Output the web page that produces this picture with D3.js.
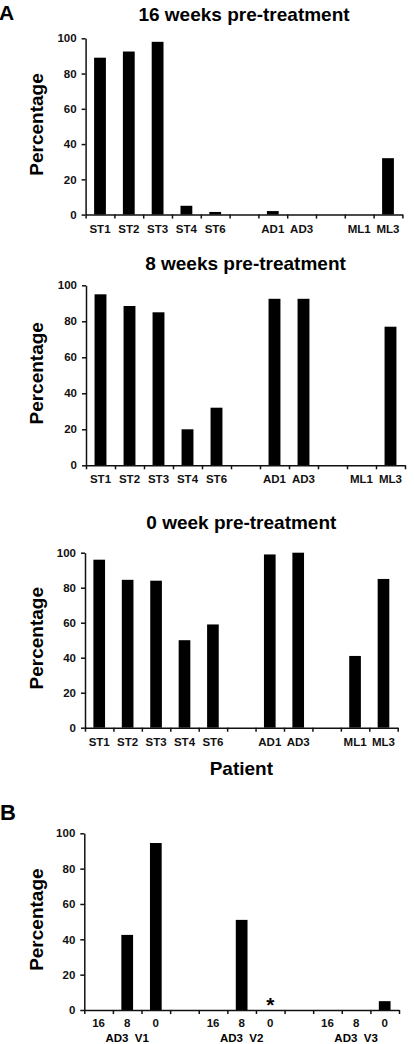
<!DOCTYPE html>
<html>
<head>
<meta charset="utf-8">
<script src="https://cdn.jsdelivr.net/npm/d3@7"></script>
<style>
  body { margin: 0; background: #fff; }
  svg { display: block; font-family: "Liberation Sans", Arial, sans-serif; }
  .tick text { font-weight: bold; fill: #111; }
  .domain, .tick line { stroke: #111; stroke-width: 1.5; }
</style>
</head>
<body>
<svg id="chart"></svg>
<script>
// panel A: patients (blank slots separate the groups)
let patients = ["ST1", "ST2", "ST3", "ST4", "ST6", "gapA", "AD1", "AD3", "gapB", "ML1", "ML3"]
let week16 = [89, 92.5, 98, 5, 1.5, null, 2, 0, null, 0, 32]
let week8 = [95, 88.5, 85, 20, 32, null, 92.5, 92.5, null, 0, 77]
let week0 = [96, 84.5, 84, 50, 59, null, 99, 100, null, 41, 85]

// panel B: AD3 visits, weeks pre-treatment
let visitSlots = ["V1-16", "V1-8", "V1-0", "gapA", "V2-16", "V2-8", "V2-0", "gapB", "V3-16", "V3-8", "V3-0"]
let visitTicks = ["16", "8", "0", "", "16", "8", "0", "", "16", "8", "0"]
let visitValues = [0, 42.5, 94.5, null, 0, 51, null, null, 0, 0, 5]
let visitGroups = ["AD3  V1", "AD3  V2", "AD3  V3"]
let groupSlots = ["V1-8", "V2-8", "V3-8"]
let starredSlots = ["V2-0"]

let yTicks = [0, 20, 40, 60, 80, 100]

let width = 414
let height = 1044

let svg = d3.select('#chart')
  .attr('width', width)
  .attr('height', height)

let drawPanel = (opts) => {
  let xScale = d3.scaleBand()
    .domain(opts.slots)
    .range([opts.left, opts.right])
    .paddingInner(0.59)
    .paddingOuter(0.295)

  // boundaries between slots, for the small x ticks
  let edgeScale = d3.scaleLinear()
    .domain([0, opts.slots.length])
    .range([opts.left, opts.right])

  let yScale = d3.scaleLinear()
    .domain([0, 100])
    .range([opts.bottom, opts.top])

  if (opts.title) {
    svg.append('text')
      .attr('x', (opts.left + opts.right) / 2)
      .attr('y', opts.titleY)
      .attr('text-anchor', 'middle')
      .style('font-weight', 'bold')
      .style('font-size', '19px')
      .text(opts.title)
  }

  svg.append('text')
    .attr('transform', 'translate(43,' + ((opts.top + opts.bottom) / 2 - 2) + ') rotate(-90)')
    .attr('text-anchor', 'middle')
    .style('font-weight', 'bold')
    .style('font-size', '19px')
    .text('Percentage')

  svg.selectAll(null)
    .data(opts.slots.map((s, i) => ({ slot: s, value: opts.values[i] })).filter(d => d.value != null))
    .enter()
    .append('rect')
    .attr('x', d => xScale(d.slot))
    .attr('width', xScale.bandwidth())
    .attr('y', d => yScale(d.value))
    .attr('height', d => yScale(0) - yScale(d.value))
    .attr('fill', '#000')

  let yAxis = d3.axisLeft(yScale)
    .tickValues(yTicks)
    .tickSize(4)
    .tickSizeOuter(0)
    .tickPadding(5)
  svg.append('g')
    .attr('transform', 'translate(' + opts.left + ',0)')
    .call(yAxis)
    .call(g => g.selectAll('text').style('font-size', '11.5px'))

  let edgeAxis = d3.axisBottom(edgeScale)
    .tickValues(d3.range(0, opts.slots.length + 1))
    .tickFormat('')
    .tickSize(4)
    .tickSizeOuter(0)
  svg.append('g')
    .attr('transform', 'translate(0,' + opts.bottom + ')')
    .call(edgeAxis)

  let labelAxis = d3.axisBottom(xScale)
    .tickSize(0)
    .tickPadding(opts.labelPad)
    .tickFormat((d, i) => opts.labels[i])
  svg.append('g')
    .attr('transform', 'translate(0,' + opts.bottom + ')')
    .call(labelAxis)
    .call(g => g.select('.domain').remove())
    .call(g => g.selectAll('text').style('font-size', '11.5px'))

  return { xScale, yScale }
}

let patientLabels = patients.map(p => p.startsWith('gap') ? '' : p)

// panel letters
svg.append('text').attr('x', -1).attr('y', 20)
  .style('font-weight', 'bold').style('font-size', '21px').text('A')
svg.append('text').attr('x', 0).attr('y', 820)
  .style('font-weight', 'bold').style('font-size', '22px').text('B')

drawPanel({ slots: patients, labels: patientLabels, values: week16,
  left: 85.6, right: 402.4, top: 38.3, bottom: 214.6,
  title: '16 weeks pre-treatment', titleY: 21, labelPad: 10 })

drawPanel({ slots: patients, labels: patientLabels, values: week8,
  left: 86, right: 405, top: 285.3, bottom: 465.3,
  title: '8 weeks pre-treatment', titleY: 270, labelPad: 10 })

drawPanel({ slots: patients, labels: patientLabels, values: week0,
  left: 85, right: 397.7, top: 552.7, bottom: 727.7,
  title: '0 week pre-treatment', titleY: 528.5, labelPad: 10 })

svg.append('text')
  .attr('x', (85 + 397.7) / 2)
  .attr('y', 775)
  .attr('text-anchor', 'middle')
  .style('font-weight', 'bold')
  .style('font-size', '19px')
  .text('Patient')

let pb = drawPanel({ slots: visitSlots, labels: visitTicks, values: visitValues,
  left: 84.3, right: 399, top: 833.3, bottom: 1010,
  title: null, labelPad: 9 })

svg.selectAll(null)
  .data(visitGroups)
  .enter()
  .append('text')
  .attr('x', (d, i) => pb.xScale(groupSlots[i]) + pb.xScale.bandwidth() / 2)
  .attr('y', 1042)
  .attr('text-anchor', 'middle')
  .style('font-weight', 'bold')
  .style('font-size', '11.5px')
  .style('white-space', 'pre')
  .text(d => d)

svg.selectAll(null)
  .data(starredSlots)
  .enter()
  .append('text')
  .attr('x', d => pb.xScale(d) + pb.xScale.bandwidth() / 2)
  .attr('y', pb.yScale(0) + 2)
  .attr('text-anchor', 'middle')
  .style('font-weight', 'bold')
  .style('font-size', '21px')
  .text('*')
</script>
</body>
</html>
